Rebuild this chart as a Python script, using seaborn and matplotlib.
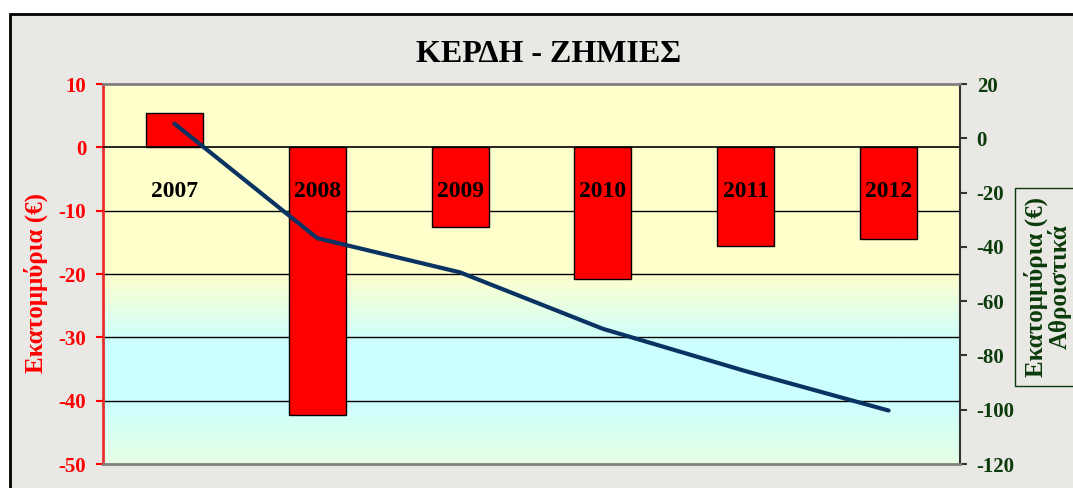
import numpy as np
import pandas as pd
import matplotlib.pyplot as plt
import seaborn as sns
from matplotlib.colors import LinearSegmentedColormap
from matplotlib.patches import Rectangle

# data (millions of euro)
years = ["2007", "2008", "2009", "2010", "2011", "2012"]
profit = [5.4, -42.2, -12.6, -20.8, -15.6, -14.5]
cumulative = [5.4, -36.8, -49.4, -70.2, -85.8, -100.3]

left_ticks = [10, 0, -10, -20, -30, -40, -50]
right_ticks = [20, 0, -20, -40, -60, -80, -100, -120]

title = "ΚΕΡΔΗ - ΖΗΜΙΕΣ"
left_label = "Εκατομμύρια (€)"
right_label = "Εκατομμύρια (€)\nΑθροιστικά"

sns.set_style("white")
plt.rcParams['font.family'] = ['Liberation Serif', 'DejaVu Serif']
plt.rcParams['font.weight'] = 'bold'
plt.rcParams['axes.unicode_minus'] = False
plt.rcParams['text.color'] = 'black'

df = pd.DataFrame({"year": years, "profit": profit, "cumulative": cumulative})

W, H = 1073, 488
fig = plt.figure(figsize=(W / 100, H / 100), dpi=100, facecolor="white")
fig.add_artist(Rectangle((10 / W, -0.1), 1.2, 1 - 14 / H + 0.1, transform=fig.transFigure,
                         facecolor="#E9E8E4", edgecolor="black", lw=2, zorder=-10))

ax1 = fig.add_axes([103 / W, 24 / H, 857 / W, 380 / H])

# gradient plot area: yellow on top, cyan band, pale green at the bottom
bg = LinearSegmentedColormap.from_list("bg", [(0, "#E6FFE4"), (0.16, "#CCFFFF"), (0.32, "#CCFFFF"),
                                              (0.5, "#FFFFCC"), (1, "#FFFFCC")])
ax1.imshow(np.linspace(0, 1, 256).reshape(-1, 1), cmap=bg, origin="lower",
           extent=(-0.5, 5.5, -50, 10), aspect="auto", zorder=0)

for v in left_ticks[2:-1]:
    ax1.axhline(v, color="black", lw=1, zorder=0.8)

sns.barplot(data=df, x="year", y="profit", color="#FF0000", saturation=1,
            edgecolor="black", linewidth=1, width=0.4, ax=ax1)

ax1.set_xlim(-0.5, 5.5)
ax1.set_ylim(-50, 10)
ax1.set_axisbelow(False)
ax1.set_xlabel("")
ax1.set_ylabel("")
ax1.set_yticks(left_ticks)
ax1.set_xticks(np.arange(len(years) - 1) + 0.5, minor=True)
ax1.tick_params(axis="x", which="major", length=0, pad=24, labelsize=17, labelcolor="black")
ax1.tick_params(axis="x", which="minor", length=6, width=1, direction="out", color="black")
ax1.tick_params(axis="y", left=True, length=5, width=1.5, pad=7, labelsize=15,
                color="#FF0000", labelcolor="#FF0000")
ax1.spines["bottom"].set_position(("data", 0))
ax1.spines["bottom"].set_color("black")
ax1.spines["bottom"].set_linewidth(1.2)
ax1.spines["left"].set_color("#E83030")
ax1.spines["left"].set_linewidth(2)
ax1.spines["top"].set_visible(False)
ax1.spines["right"].set_visible(False)

ax2 = ax1.twinx()
sns.lineplot(data=df, x="year", y="cumulative", ax=ax2, color="#0A3363", lw=3, sort=False)
ax1.set_xlim(-0.5, 5.5)
ax2.set_ylim(-120, 20)
ax2.set_yticks(right_ticks)
ax2.set_ylabel("")
ax2.tick_params(axis="y", right=True, length=5, width=1.5, pad=7, labelsize=15,
                color="#333333", labelcolor="#0B3B0B")
ax2.spines["left"].set_visible(False)
for s in ["top", "bottom"]:
    ax2.spines[s].set_color("#808080")
    ax2.spines[s].set_linewidth(2)
ax2.spines["right"].set_color("#333333")
ax2.spines["right"].set_linewidth(1.5)

fig.text(549 / W, 1 - 55 / H, title, ha="center", va="center", fontsize=23,
         fontweight="bold", color="black")
fig.text(36 / W, 1 - 283 / H, left_label, rotation=90, ha="center", va="center",
         fontsize=18, fontweight="bold", color="#FF0000")
fig.text(1048 / W, 1 - 287 / H, right_label, rotation=90, ha="center", va="center",
         multialignment="center", fontsize=18, fontweight="bold", color="#0B3B0B",
         linespacing=1.0,
         bbox=dict(boxstyle="square,pad=0.35", fc="none", ec="#0B3B0B", lw=1))

fig.savefig("out.png", dpi=100)
